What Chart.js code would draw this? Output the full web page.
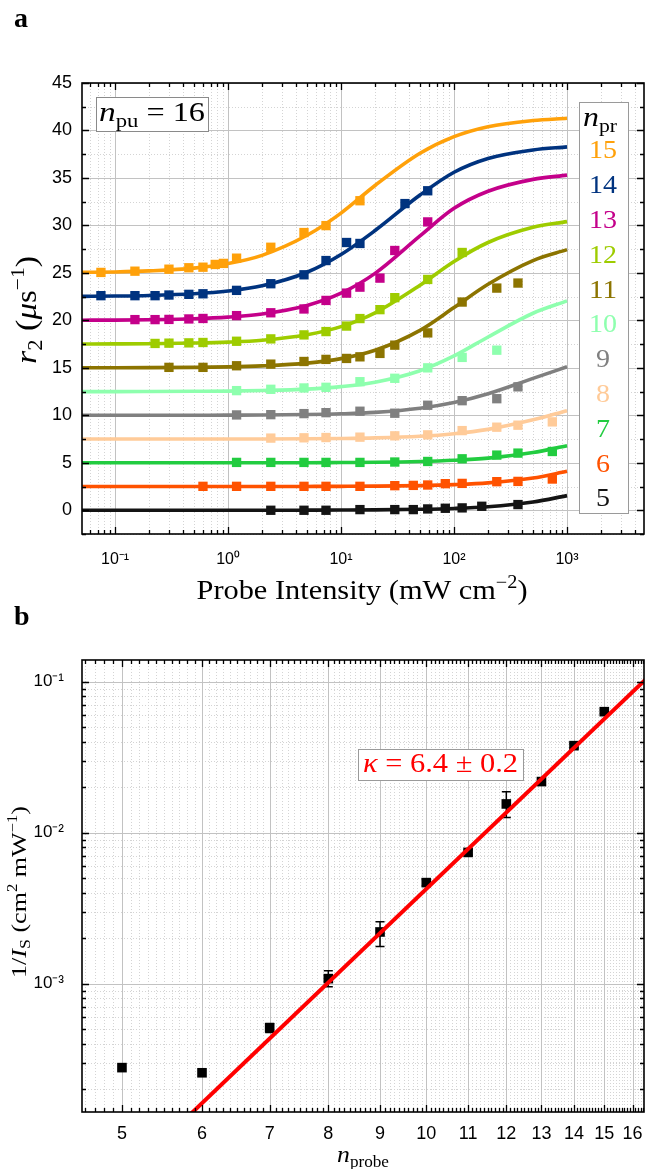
<!DOCTYPE html>
<html lang="en">
<head>
<meta charset="UTF-8">
<title>r2 vs probe intensity, 1/Is vs n</title>
<script src="https://cdn.jsdelivr.net/npm/chart.js"></script>
<style>
  body { margin: 0; background: #fff; }
  .panel { position: absolute; left: 0; width: 645px; }
  #panelA { top: 0; height: 612px; }
  #panelB { top: 598px; height: 571px; }
</style>
</head>
<body>
<div class="panel" id="panelA"><canvas id="chartA"></canvas></div>
<div class="panel" id="panelB"><canvas id="chartB"></canvas></div>
<script>
// ---------- panel a : measured r2 (null = no point at that intensity) ----------
const probeI = [0.075, 0.15, 0.226, 0.3, 0.45, 0.6, 0.77, 0.91, 1.19, 2.39, 4.7, 7.36, 11.2, 14.7, 22.1, 29.9, 36.8, 43.6, 58.5, 83.7, 118, 176, 239, 368, 741];
const r2n15 = [25.05, 25.18, null, 25.39, 25.54, 25.6, 25.89, 26.0, 26.55, 27.7, 29.25, 29.98, null, 32.6, null, null, null, null, null, null, null, null, null, null, null];
const r2n14 = [22.6, 22.6, 22.6, 22.67, 22.74, 22.8, null, null, 23.16, 23.86, 24.8, 26.3, 28.2, 28.1, null, null, 32.3, null, 33.65, null, null, null, null, null, null];
const r2n13 = [null, 20.08, 20.08, 20.1, 20.15, 20.2, null, null, 20.5, 20.8, 21.2, 22.1, 22.87, 23.5, 24.45, 27.36, null, null, 30.37, null, null, null, null, null, null];
const r2n12 = [null, null, 17.57, 17.6, 17.63, 17.67, null, null, 17.8, 18.05, 18.47, 18.82, 19.4, 20.19, 21.13, 22.39, null, null, 24.31, null, 27.15, null, null, null, null];
const r2n11 = [null, null, null, 15.05, null, 15.05, null, null, 15.22, 15.39, 15.67, 15.89, 15.99, 16.16, 16.52, 17.39, null, null, 18.68, null, 21.93, null, 23.4, 23.93, null];
const r2n10 = [null, null, null, null, null, null, null, null, 12.6, 12.74, 12.88, 12.95, null, 13.54, null, 13.9, null, null, 15.0, null, 16.1, null, 16.86, null, null];
const r2n9 = [null, null, null, null, null, null, null, null, 10.04, 10.07, 10.18, 10.28, null, 10.43, null, 10.22, null, null, 11.06, null, 11.54, null, 11.75, 13.0, null];
const r2n8 = [null, null, null, null, null, null, null, null, null, 7.6, 7.63, 7.66, null, 7.7, null, 7.84, null, null, 7.94, null, 8.39, null, 8.75, 8.96, 9.31];
const r2n7 = [null, null, null, null, null, null, null, null, 5.04, 5.04, 5.04, 5.04, null, 5.04, null, 5.08, null, null, 5.14, null, 5.42, null, 5.81, 6.02, 6.19];
const r2n6 = [null, null, null, null, null, 2.52, null, null, 2.52, 2.52, 2.52, 2.52, null, 2.52, null, 2.59, null, 2.62, 2.66, 2.8, 2.83, null, 3.01, 3.04, 3.29];
const r2n5 = [null, null, null, null, null, null, null, null, null, 0.0, 0.0, 0.0, null, 0.07, null, 0.07, null, 0.07, 0.14, 0.21, 0.25, 0.42, null, 0.6, null];

// fitted curves at these intensities
const fitI = [0.05, 0.1, 0.2, 0.5, 1, 2, 5, 10, 20, 50, 100, 200, 500, 1000];
const fitN15 = [25.05, 25.10, 25.21, 25.50, 25.98, 26.85, 28.96, 31.30, 34.21, 37.60, 39.35, 40.40, 41.05, 41.28];
const fitN14 = [22.53, 22.56, 22.62, 22.80, 23.09, 23.64, 25.07, 26.94, 29.46, 33.20, 35.60, 37.05, 37.95, 38.27];
const fitN13 = [20.02, 20.03, 20.07, 20.17, 20.34, 20.67, 21.57, 22.86, 24.95, 28.90, 31.80, 33.60, 34.85, 35.30];
const fitN12 = [17.51, 17.52, 17.54, 17.61, 17.71, 17.91, 18.49, 19.34, 20.80, 23.70, 26.20, 28.20, 29.80, 30.40];
const fitN11 = [15.01, 15.01, 15.02, 15.05, 15.10, 15.21, 15.50, 15.97, 16.85, 18.95, 21.35, 23.80, 26.30, 27.45];
const fitN10 = [12.50, 12.50, 12.51, 12.53, 12.55, 12.61, 12.76, 13.02, 13.49, 14.70, 16.25, 18.25, 20.75, 22.05];
const fitN9 = [10.00, 10.00, 10.00, 10.01, 10.02, 10.03, 10.08, 10.16, 10.31, 10.74, 11.34, 12.27, 13.89, 15.11];
const fitN8 = [7.50, 7.50, 7.50, 7.50, 7.51, 7.51, 7.53, 7.56, 7.62, 7.79, 8.06, 8.52, 9.52, 10.49];
const fitN7 = [5.00, 5.00, 5.00, 5.00, 5.00, 5.01, 5.01, 5.03, 5.05, 5.13, 5.26, 5.49, 6.08, 6.79];
const fitN6 = [2.50, 2.50, 2.50, 2.50, 2.50, 2.50, 2.51, 2.52, 2.54, 2.60, 2.70, 2.88, 3.39, 4.10];
const fitN5 = [0.00, 0.00, 0.00, 0.00, 0.00, 0.00, 0.01, 0.02, 0.04, 0.10, 0.19, 0.37, 0.87, 1.54];

const nPr = ['15', '14', '13', '12', '11', '10', '9', '8', '7', '6', '5'];
const nPrColors = ['#ffa10a', '#00337f', '#c4008a', '#9ecc00', '#8c7400', '#8effae', '#808080', '#ffcb99', '#22cc40', '#ff5200', '#141414'];

const aXTicks = [0.1, 1, 10, 100, 1000];
const aXTickLabels = ['10⁻¹', '10⁰', '10¹', '10²', '10³'];
const aYTicks = [0, 5, 10, 15, 20, 25, 30, 35, 40, 45];

// ---------- panel b : 1/Is vs n_probe ----------
const nProbe = [5, 6, 7, 8, 9, 10, 11, 12, 13, 14, 15];
const invIs = [2.78e-4, 2.57e-4, 5.1e-4, 1.08e-3, 2.2e-3, 4.67e-3, 7.4e-3, 1.55e-2, 2.18e-2, 3.77e-2, 6.33e-2];
const invIsLo = [null, null, 4.75e-4, 9.55e-4, 1.76e-3, 4.45e-3, 7.1e-3, 1.26e-2, 2.1e-2, 3.65e-2, 6.15e-2];
const invIsHi = [null, null, 5.45e-4, 1.22e-3, 2.57e-3, 4.9e-3, 7.7e-3, 1.87e-2, 2.26e-2, 3.89e-2, 6.5e-2];
const lineN = [5.6, 16.5];
const lineInvIs = [1.04e-4, 0.1044];

const bXTicks = [5, 6, 7, 8, 9, 10, 11, 12, 13, 14, 15, 16];
const bYTicks = [0.001, 0.01, 0.1];
const bYTickLabels = ['10⁻³', '10⁻²', '10⁻¹'];

const SERIF = '"Liberation Serif", "DejaVu Serif", serif';
const SANS = '"Liberation Sans", Arial, sans-serif';

// minor tick positions
function logMinors(lo, hi) {
  const out = [];
  for (let e = -5; e <= 4; e++) {
    for (let m = 2; m <= 9; m++) {
      const v = m * Math.pow(10, e);
      if (v > lo && v < hi) out.push(v);
    }
  }
  return out;
}
const aXMinor = logMinors(0.051, 4800);
const aYMinor = [];
for (let v = -2.5; v < 45; v += 5) aYMinor.push(v);
const bXMinor = [];
for (let k = 46; k <= 164; k++) if (k % 10 !== 0) bXMinor.push(k / 10);
const bYMinor = logMinors(1.413e-4, 0.1392);

function pairs(xs, ys) {
  return xs.map((x, i) => ({ x: x, y: ys[i] })).filter(p => p.y !== null);
}

// rich text: segments drawn one after another on a common baseline
function drawRich(ctx, segs, x, y, opt) {
  opt = opt || {};
  let w = 0;
  segs.forEach(s => { ctx.font = s.font; w += ctx.measureText(s.t).width; });
  const sx = opt.width ? opt.width / w : 1;
  ctx.save();
  ctx.translate(x, y);
  if (opt.rotate) ctx.rotate(opt.rotate);
  ctx.scale(sx, 1);
  ctx.textAlign = 'left';
  ctx.textBaseline = 'alphabetic';
  let cx = opt.align === 'left' ? 0 : -w / 2;
  segs.forEach(s => {
    ctx.font = s.font;
    ctx.fillStyle = s.color || opt.color || '#000';
    ctx.fillText(s.t, cx, s.dy || 0);
    cx += ctx.measureText(s.t).width;
  });
  ctx.restore();
}

function textBox(ctx, l, t, r, b, stroke) {
  ctx.save();
  ctx.fillStyle = '#fff';
  ctx.fillRect(l, t, r - l, b - t);
  ctx.strokeStyle = stroke;
  ctx.lineWidth = 1;
  ctx.strokeRect(Math.round(l) + 0.5, Math.round(t) + 0.5, Math.round(r - l), Math.round(b - t));
  ctx.restore();
}

// keep the plot box where it is: no extra room for overhanging tick labels
function fixX(h) {
  return s => { s.height = h; s.paddingLeft = 0; s.paddingRight = 0; };
}
function fixY(w) {
  return s => { s.width = w; s.paddingTop = 0; s.paddingBottom = 0; };
}

// grid, inward ticks on all four sides, frame
const framePlugin = {
  id: 'frame',
  beforeDatasetsDraw(chart, args, o) {
    const { ctx, chartArea: a } = chart;
    const xs = chart.scales.x, ys = chart.scales.y;
    const v = p => { p = Math.round(p) + 0.5; ctx.beginPath(); ctx.moveTo(p, a.top); ctx.lineTo(p, a.bottom); ctx.stroke(); };
    const h = p => { p = Math.round(p) + 0.5; ctx.beginPath(); ctx.moveTo(a.left, p); ctx.lineTo(a.right, p); ctx.stroke(); };
    ctx.save();
    ctx.lineWidth = 1;
    ctx.setLineDash([1, 2]);
    ctx.strokeStyle = '#d4d4d4';
    o.xMinor.forEach(t => v(xs.getPixelForValue(t)));
    o.yMinor.forEach(t => h(ys.getPixelForValue(t)));
    ctx.setLineDash([]);
    ctx.strokeStyle = '#c2c2c2';
    o.xMajor.forEach(t => v(xs.getPixelForValue(t)));
    o.yMajor.forEach(t => h(ys.getPixelForValue(t)));
    ctx.restore();
  },
  afterDraw(chart, args, o) {
    const { ctx, chartArea: a } = chart;
    const xs = chart.scales.x, ys = chart.scales.y;
    ctx.save();
    ctx.strokeStyle = '#000';
    ctx.lineWidth = 1.3;
    const xt = (t, len) => {
      const p = Math.round(xs.getPixelForValue(t)) + 0.5;
      ctx.beginPath();
      ctx.moveTo(p, a.bottom); ctx.lineTo(p, a.bottom - len);
      ctx.moveTo(p, a.top); ctx.lineTo(p, a.top + len);
      ctx.stroke();
    };
    const yt = (t, len) => {
      const p = Math.round(ys.getPixelForValue(t)) + 0.5;
      ctx.beginPath();
      ctx.moveTo(a.left, p); ctx.lineTo(a.left + len, p);
      ctx.moveTo(a.right, p); ctx.lineTo(a.right - len, p);
      ctx.stroke();
    };
    o.xMinor.forEach(t => xt(t, 4));
    o.xMajor.forEach(t => xt(t, 7));
    o.yMinor.forEach(t => yt(t, 4));
    o.yMajor.forEach(t => yt(t, 7));
    ctx.lineWidth = 1.6;
    ctx.strokeRect(a.left, a.top, a.right - a.left, a.bottom - a.top);
    ctx.restore();
  }
};

// ---------- chart a ----------
const pointSets = [r2n15, r2n14, r2n13, r2n12, r2n11, r2n10, r2n9, r2n8, r2n7, r2n6, r2n5];
const fitSets = [fitN15, fitN14, fitN13, fitN12, fitN11, fitN10, fitN9, fitN8, fitN7, fitN6, fitN5];

const datasetsA = [];
pointSets.forEach((ys, i) => datasetsA.push({
  label: 'n_pr = ' + nPr[i],
  data: pairs(probeI, ys),
  showLine: false,
  pointStyle: 'rect',
  pointRadius: 6.6,
  pointBorderWidth: 0,
  backgroundColor: nPrColors[i],
  borderColor: nPrColors[i]
}));
fitSets.forEach((ys, i) => datasetsA.push({
  label: 'fit ' + nPr[i],
  data: pairs(fitI, ys),
  showLine: true,
  pointRadius: 0,
  borderWidth: 3.6,
  borderColor: nPrColors[i],
  cubicInterpolationMode: 'monotone',
  fill: false
}));

const textPluginA = {
  id: 'textA',
  afterDraw(chart) {
    const ctx = chart.ctx;
    drawRich(ctx, [{ t: 'a', font: 'bold 28px ' + SERIF }], 14, 27, { align: 'left' });
    // n_pu box
    textBox(ctx, 96, 97, 208, 131, '#8a8a8a');
    drawRich(ctx, [
      { t: 'n', font: 'italic 28px ' + SERIF },
      { t: 'pu', font: '19px ' + SERIF, dy: 6 },
      { t: ' = 16', font: '27px ' + SERIF }
    ], 152, 121, { width: 106 });
    // n_pr legend
    textBox(ctx, 579, 102, 628, 513, '#9a9a9a');
    drawRich(ctx, [
      { t: 'n', font: 'italic 28px ' + SERIF },
      { t: 'pr', font: '19px ' + SERIF, dy: 6 }
    ], 600, 126, { width: 34 });
    nPr.forEach((lab, i) => {
      drawRich(ctx, [{ t: lab, font: '26px ' + SERIF, color: nPrColors[i] }], 603, 158.3 + i * 34.8, { width: lab.length === 2 ? 28 : 14 });
    });
    // axis titles
    drawRich(ctx, [
      { t: 'r', font: 'italic 30px ' + SERIF },
      { t: '2', font: '20px ' + SERIF, dy: 6 },
      { t: ' (', font: '30px ' + SERIF },
      { t: 'μ', font: 'italic 29px ' + SERIF },
      { t: 's', font: '29px ' + SERIF },
      { t: '−1', font: '19px ' + SERIF, dy: -12 },
      { t: ')', font: '30px ' + SERIF }
    ], 36, 310, { rotate: -Math.PI / 2, width: 108 });
    drawRich(ctx, [
      { t: 'Probe Intensity (', font: '27px ' + SERIF },
      { t: 'mW cm', font: '27px ' + SERIF },
      { t: '−2', font: '18px ' + SERIF, dy: -11 },
      { t: ')', font: '27px ' + SERIF }
    ], 362, 599, { width: 331 });
  }
};

new Chart(document.getElementById('chartA'), {
  type: 'scatter',
  data: { datasets: datasetsA },
  options: {
    responsive: true,
    maintainAspectRatio: false,
    animation: false,
    layout: { autoPadding: false, padding: { left: 0, right: 1, top: 83, bottom: 0 } },
    plugins: {
      legend: { display: false },
      tooltip: { enabled: false },
      frame: { xMajor: aXTicks, xMinor: aXMinor, yMajor: aYTicks, yMinor: aYMinor }
    },
    scales: {
      x: {
        type: 'logarithmic',
        min: 0.051,
        max: 4800,
        grid: { display: false, drawTicks: false },
        border: { display: false },
        afterBuildTicks: s => { s.ticks = aXTicks.map(v => ({ value: v })); },
        afterFit: fixX(78),
        ticks: {
          autoSkip: false,
          maxRotation: 0,
          padding: 16,
          color: '#000',
          font: { family: SANS, size: 16 },
          callback: (v, i) => aXTickLabels[i]
        }
      },
      y: {
        min: -2.5,
        max: 45,
        grid: { display: false, drawTicks: false },
        border: { display: false },
        afterBuildTicks: s => { s.ticks = aYTicks.map(v => ({ value: v })); },
        afterFit: fixY(82),
        ticks: {
          autoSkip: false,
          padding: 10,
          color: '#000',
          font: { family: SANS, size: 18 },
          callback: v => String(v)
        }
      }
    }
  },
  plugins: [framePlugin, textPluginA]
});

// ---------- chart b ----------
const errorBarPlugin = {
  id: 'errorBars',
  beforeDatasetsDraw(chart) {
    const { ctx } = chart;
    const xs = chart.scales.x, ys = chart.scales.y;
    ctx.save();
    ctx.strokeStyle = '#000';
    ctx.lineWidth = 1.5;
    nProbe.forEach((n, i) => {
      if (invIsLo[i] === null) return;
      const px = xs.getPixelForValue(n);
      const lo = ys.getPixelForValue(invIsLo[i]);
      const hi = ys.getPixelForValue(invIsHi[i]);
      ctx.beginPath();
      ctx.moveTo(px, lo); ctx.lineTo(px, hi);
      ctx.moveTo(px - 4.5, lo); ctx.lineTo(px + 4.5, lo);
      ctx.moveTo(px - 4.5, hi); ctx.lineTo(px + 4.5, hi);
      ctx.stroke();
    });
    ctx.restore();
  }
};

const textPluginB = {
  id: 'textB',
  afterDraw(chart) {
    const ctx = chart.ctx;
    drawRich(ctx, [{ t: 'b', font: 'bold 28px ' + SERIF }], 14, 27, { align: 'left' });
    textBox(ctx, 358, 151, 523, 182, '#9a9a9a');
    drawRich(ctx, [
      { t: 'κ', font: 'italic 27px ' + SERIF, color: '#ff0000' },
      { t: ' = 6.4 ± 0.2', font: '27px ' + SERIF, color: '#ff0000' }
    ], 440.5, 174, { width: 155 });
    drawRich(ctx, [
      { t: '1/', font: '22px ' + SERIF },
      { t: 'I', font: 'italic 22px ' + SERIF },
      { t: 'S', font: '15px ' + SERIF, dy: 4 },
      { t: ' (cm', font: '22px ' + SERIF },
      { t: '2', font: '14px ' + SERIF, dy: -9 },
      { t: ' mW', font: '22px ' + SERIF },
      { t: '−1', font: '14px ' + SERIF, dy: -9 },
      { t: ')', font: '22px ' + SERIF }
    ], 26, 294, { rotate: -Math.PI / 2, width: 172 });
    drawRich(ctx, [
      { t: 'n', font: 'italic 24px ' + SERIF },
      { t: 'probe', font: '16px ' + SERIF, dy: 5 }
    ], 363, 564, { width: 52 });
  }
};

new Chart(document.getElementById('chartB'), {
  type: 'scatter',
  data: {
    datasets: [
      {
        label: 'fit',
        data: pairs(lineN, lineInvIs),
        showLine: true,
        pointRadius: 0,
        borderWidth: 4,
        borderColor: '#ff0000'
      },
      {
        label: '1/Is',
        data: pairs(nProbe, invIs),
        showLine: false,
        pointStyle: 'rect',
        pointRadius: 6.8,
        pointBorderWidth: 0,
        backgroundColor: '#000',
        borderColor: '#000'
      }
    ]
  },
  options: {
    responsive: true,
    maintainAspectRatio: false,
    animation: false,
    layout: { autoPadding: false, padding: { left: 0, right: 1, top: 62, bottom: 0 } },
    plugins: {
      legend: { display: false },
      tooltip: { enabled: false },
      frame: { xMajor: bXTicks, xMinor: bXMinor, yMajor: bYTicks, yMinor: bYMinor }
    },
    scales: {
      x: {
        type: 'logarithmic',
        min: 4.565,
        max: 16.42,
        grid: { display: false, drawTicks: false },
        border: { display: false },
        afterBuildTicks: s => { s.ticks = bXTicks.map(v => ({ value: v })); },
        afterFit: fixX(57),
        ticks: {
          autoSkip: false,
          maxRotation: 0,
          padding: 11,
          color: '#000',
          font: { family: SANS, size: 18 },
          callback: (v, i) => String(bXTicks[i])
        }
      },
      y: {
        type: 'logarithmic',
        min: 1.413e-4,
        max: 0.1392,
        grid: { display: false, drawTicks: false },
        border: { display: false },
        afterBuildTicks: s => { s.ticks = bYTicks.map(v => ({ value: v })); },
        afterFit: fixY(82),
        ticks: {
          autoSkip: false,
          padding: 18,
          color: '#000',
          font: { family: SANS, size: 17 },
          callback: (v, i) => bYTickLabels[i]
        }
      }
    }
  },
  plugins: [framePlugin, errorBarPlugin, textPluginB]
});
</script>
</body>
</html>
